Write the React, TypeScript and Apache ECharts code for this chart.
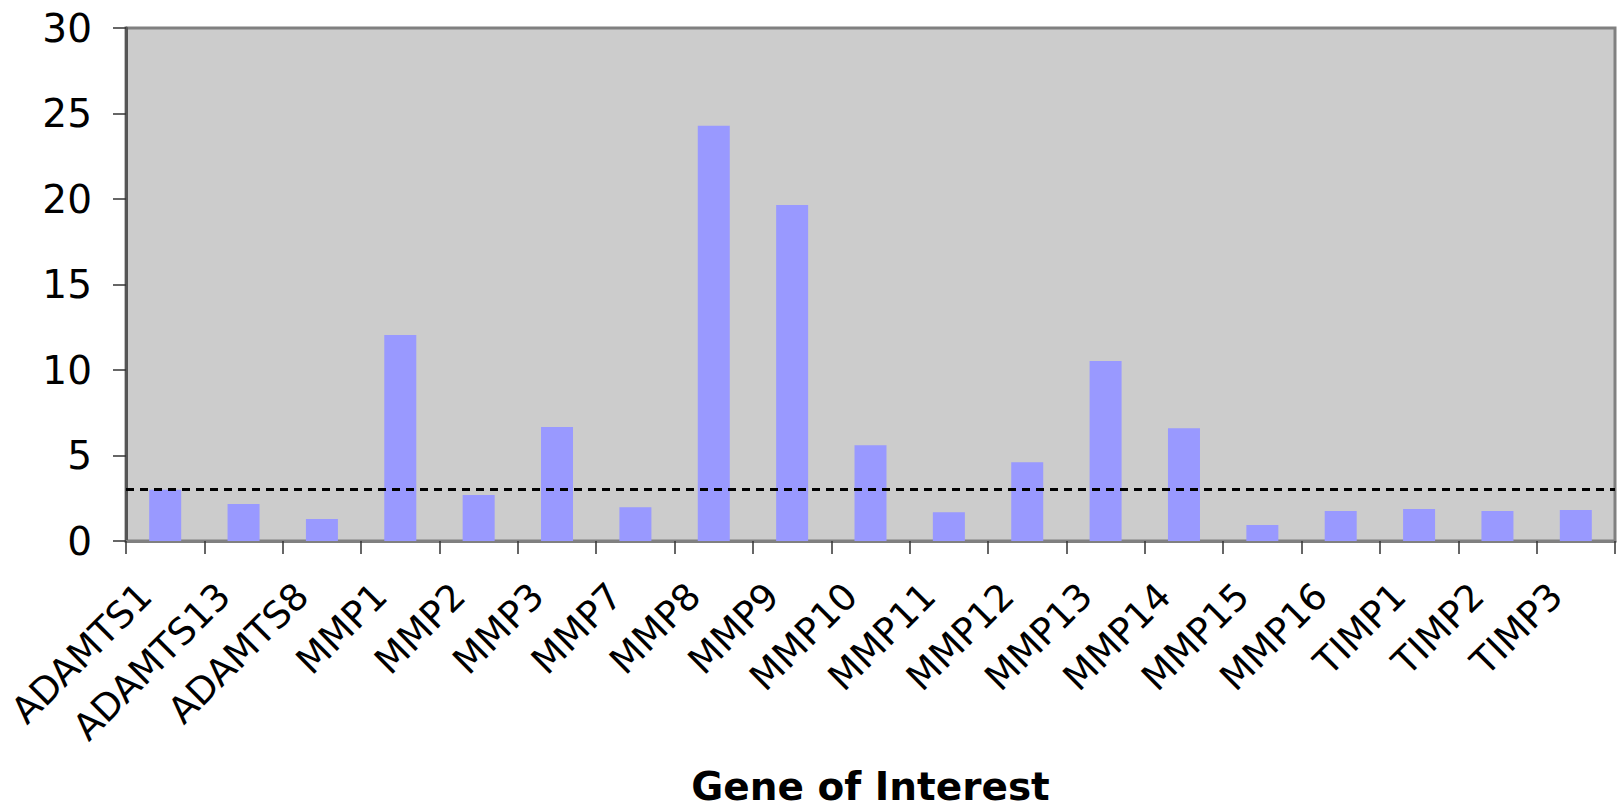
import React, { useEffect, useRef } from "react";
import * as echarts from "echarts";

const genes = [
  "ADAMTS1", "ADAMTS13", "ADAMTS8", "MMP1", "MMP2", "MMP3", "MMP7", "MMP8", "MMP9", "MMP10",
  "MMP11", "MMP12", "MMP13", "MMP14", "MMP15", "MMP16", "TIMP1", "TIMP2", "TIMP3",
];
const foldChange = [
  3.0, 2.17, 1.29, 12.04, 2.69, 6.66, 1.97, 24.28, 19.65, 5.6,
  1.68, 4.61, 10.52, 6.6, 0.94, 1.76, 1.87, 1.76, 1.82,
];
const threshold = 3.05;
const xTitle = "Gene of Interest";

export default function App() {
  const ref = useRef<HTMLDivElement>(null);
  useEffect(() => {
    if (!ref.current) return;
    const chart = echarts.init(ref.current, undefined, { renderer: "svg" });
    chart.setOption({
      animation: false,
      textStyle: { fontFamily: "DejaVu Sans" },
      grid: {
        left: 126,
        right: 2,
        top: 28,
        bottom: 264,
        outerBoundsMode: "none",
        containLabel: false,
        show: true,
        backgroundColor: "#cccccc",
        borderColor: "#808080",
        borderWidth: 3,
      },
      xAxis: {
        type: "category",
        data: genes,
        name: xTitle,
        nameLocation: "middle",
        nameGap: 227,
        nameMoveOverlap: false,
        nameTextStyle: {
          fontSize: 39,
          lineHeight: 36,
          fontWeight: "bold",
          color: "#000",
          fontFamily: "DejaVu Sans",
        },
        axisLine: { lineStyle: { color: "#808080", width: 3 } },
        axisTick: { show: true, length: 13, lineStyle: { color: "#333", width: 1.5 } },
        axisLabel: {
          rotate: 45,
          fontSize: 37,
          color: "#000",
          margin: 29,
          padding: [0, 28, 0, 0],
          interval: 0,
        },
      },
      yAxis: {
        type: "value",
        min: 0,
        max: 30,
        interval: 5,
        splitLine: { show: false },
        axisLine: { show: true, lineStyle: { color: "#555555", width: 3 } },
        axisTick: { show: true, length: 13, lineStyle: { color: "#333", width: 1.5 } },
        axisLabel: { fontSize: 39, color: "#000", margin: 34 },
      },
      series: [
        {
          type: "bar",
          data: foldChange,
          barWidth: 32,
          itemStyle: { color: "#9999ff" },
          markLine: {
            silent: true,
            symbol: "none",
            label: { show: false },
            lineStyle: { color: "#000", width: 3, type: [8, 6] },
            data: [{ yAxis: threshold }],
          },
        },
      ],
    });
    return () => chart.dispose();
  }, []);
  return (
    <div
      ref={ref}
      style={{ position: "fixed", left: 0, top: 0, width: 1617, height: 805, background: "#fff" }}
    />
  );
}
